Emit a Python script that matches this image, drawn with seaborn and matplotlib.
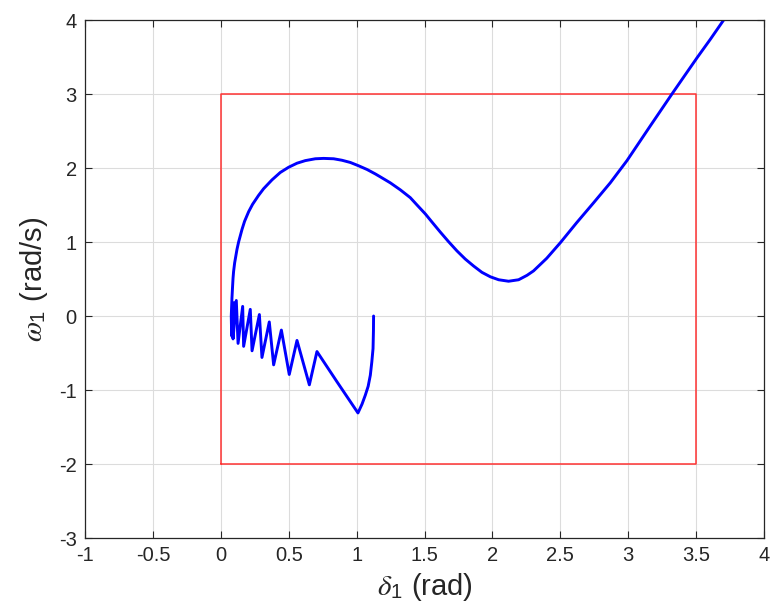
import matplotlib
matplotlib.use('Agg')
import matplotlib.pyplot as plt
import seaborn as sns
import pandas as pd

# trajectory (delta_1 in rad, omega_1 in rad/s)
delta = [1.125, 1.124, 1.121, 1.112, 1.101, 1.085, 1.064, 1.040, 1.010,
         0.856, 0.708, 0.652, 0.561, 0.504, 0.446, 0.389, 0.357, 0.303,
         0.284, 0.230, 0.217, 0.168, 0.161, 0.127, 0.114, 0.090, 0.098,
         0.080, 0.077, 0.082, 0.086, 0.090, 0.094, 0.102, 0.119, 0.131,
         0.156, 0.175, 0.205, 0.234, 0.278, 0.315, 0.377, 0.438, 0.499,
         0.561, 0.622, 0.696, 0.757, 0.831, 0.892, 0.954, 1.015, 1.077,
         1.138, 1.175, 1.248, 1.322, 1.395, 1.445, 1.506, 1.555, 1.616,
         1.677, 1.739, 1.800, 1.862, 1.923, 1.985, 2.046, 2.119, 2.193,
         2.255, 2.303, 2.400, 2.500, 2.620, 2.745, 2.868, 2.991, 3.163,
         3.322, 3.420, 3.507, 3.605, 3.703, 3.760]
omega = [0.00, -0.20, -0.44, -0.62, -0.80, -0.95, -1.07, -1.19, -1.31,
         -0.89, -0.48, -0.93, -0.33, -0.79, -0.19, -0.66, -0.08, -0.56,
         0.02, -0.47, 0.09, -0.41, 0.13, -0.37, 0.21, -0.31, 0.18,
         -0.27, 0.00, 0.24, 0.38, 0.51, 0.60, 0.72, 0.90, 1.00,
         1.17, 1.28, 1.41, 1.51, 1.63, 1.72, 1.84, 1.94, 2.01,
         2.065, 2.10, 2.125, 2.13, 2.125, 2.105, 2.075, 2.03, 1.98,
         1.92, 1.88, 1.80, 1.705, 1.60, 1.50, 1.38, 1.27, 1.135,
         1.005, 0.88, 0.77, 0.675, 0.59, 0.53, 0.49, 0.47, 0.49,
         0.55, 0.61, 0.78, 0.99, 1.26, 1.53, 1.80, 2.10, 2.57,
         3.00, 3.26, 3.49, 3.74, 4.00, 4.15]

# stability box
box_x = [0, 3.5, 3.5, 0, 0]
box_y = [-2, -2, 3, 3, -2]

x_ticks = [-1, -0.5, 0, 0.5, 1, 1.5, 2, 2.5, 3, 3.5, 4]
x_labels = ['-1', '-0.5', '0', '0.5', '1', '1.5', '2', '2.5', '3', '3.5', '4']
y_ticks = [-3, -2, -1, 0, 1, 2, 3, 4]
y_labels = ['-3', '-2', '-1', '0', '1', '2', '3', '4']

sns.set_theme(style='whitegrid')
plt.rcParams['font.family'] = ['Liberation Sans', 'DejaVu Sans']
plt.rcParams['mathtext.fontset'] = 'stix'

traj = pd.DataFrame({'delta': delta, 'omega': omega})
box = pd.DataFrame({'x': box_x, 'y': box_y})

fig = plt.figure(figsize=(7.75, 6.16), dpi=100)
ax = fig.add_axes([0.1097, 0.1266, 0.8761, 0.8409])

sns.lineplot(data=box, x='x', y='y', sort=False, estimator=None,
             color='#ff3333', linewidth=1.1, ax=ax)
sns.lineplot(data=traj, x='delta', y='omega', sort=False, estimator=None,
             color='#0000ff', linewidth=2.1, ax=ax)

ax.set_xlim(-1, 4)
ax.set_ylim(-3, 4)
ax.set_xticks(x_ticks)
ax.set_xticklabels(x_labels)
ax.set_yticks(y_ticks)
ax.set_yticklabels(y_labels)

ax.grid(True, color='#dcdcdc', linewidth=0.8)
for s in ax.spines.values():
    s.set_color('#262626')
    s.set_linewidth(0.9)
ax.tick_params(direction='in', length=5, width=0.8, color='#262626',
               labelsize=14.5, labelcolor='#262626', top=True, right=True,
               bottom=True, left=True, pad=6)

ax.set_xlabel(r'$\delta_{\mathregular{1}}$ (rad)', fontsize=21, color='#262626', labelpad=4)
ax.set_ylabel(r'$\omega_{\mathregular{1}}$ (rad/s)', fontsize=21, color='#262626', labelpad=6)

fig.savefig('out.png', dpi=100)
